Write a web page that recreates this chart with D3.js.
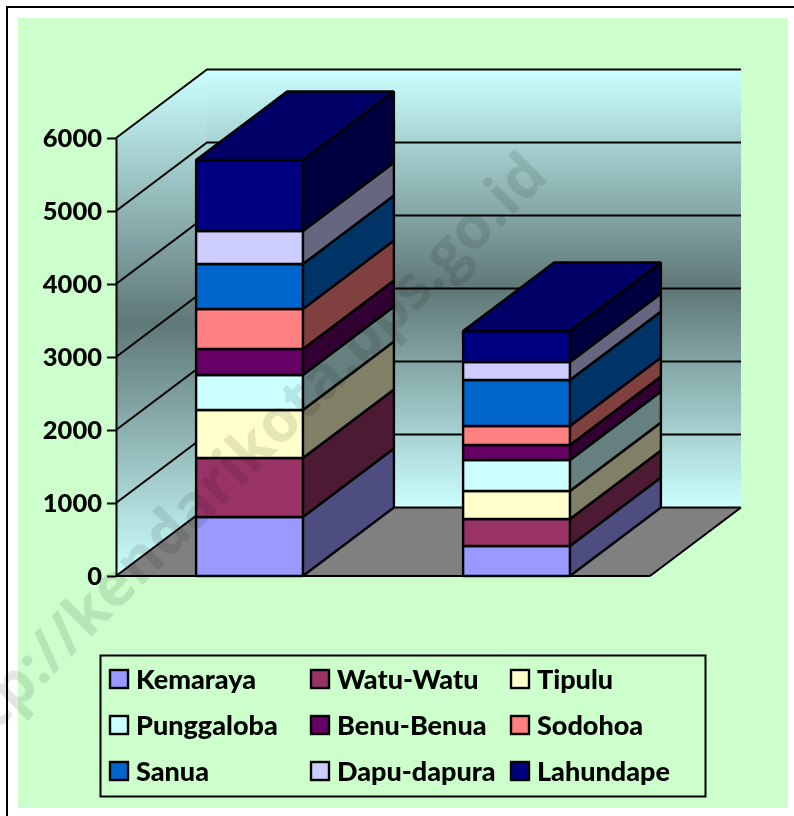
<!DOCTYPE html>
<html>
<head>
<meta charset="utf-8">
<style>
  html, body { margin: 0; padding: 0; background: #fff; }
  svg { display: block; }
</style>
</head>
<body>
<div id="chart"></div>
<script src="https://cdn.jsdelivr.net/npm/d3@7"></script>
<script>
// Data
const categories = ['Kolom 1', 'Kolom 2']
const seriesNames = ['Kemaraya', 'Watu-Watu', 'Tipulu', 'Punggaloba', 'Benu-Benua', 'Sodohoa', 'Sanua', 'Dapu-dapura', 'Lahundape']
const kolom1 = [808, 808, 658, 479, 357, 548, 616, 452, 973]
const kolom2 = [411, 370, 383, 425, 206, 260, 630, 247, 424]
const tickValues = [0, 1000, 2000, 3000, 4000, 5000, 6000]
const frontColors = ['#9999ff', '#993366', '#ffffcc', '#ccffff', '#660066', '#ff8080', '#0066cc', '#ccccff', '#000080']
const sideColors = ['#4d4d80', '#4d1a33', '#808066', '#668080', '#330033', '#804040', '#003366', '#666680', '#000040']
const topColor = '#000066'

// Dimensions
const width = 794
const height = 816
const plot = { left: 116, right: 650, bottom: 576, top: 138 }
const depth = { x: 91, y: -68.5 }
const font = 'Lato, "Noto Sans", sans-serif'

const rows = categories.map((c, i) => {
  const row = { category: c }
  seriesNames.forEach((s, j) => {
    row[s] = (i === 0 ? kolom1 : kolom2)[j]
  })
  return row
})

// Draw Image
const svg = d3.select('#chart')
  .append('svg')
  .attr('width', width)
  .attr('height', height)

// Frame
svg.append('rect')
  .attr('x', 18).attr('y', 18)
  .attr('width', 770).attr('height', 790)
  .attr('fill', '#ccffcc')
svg.append('path')
  .attr('d', 'M7,816V7H794')
  .attr('fill', 'none')
  .attr('stroke', '#000')
  .attr('stroke-width', 2)

// Scales
const xScale = d3.scaleBand()
  .domain(categories)
  .range([plot.left, plot.right])
  .paddingInner(0.6)
  .paddingOuter(0.3)

const yScale = d3.scaleLinear()
  .domain([0, 6000])
  .range([plot.bottom, plot.top])

const stackData = d3.stack().keys(seriesNames)(rows)

// Wall gradient
const defs = svg.append('defs')
const wall = defs.append('linearGradient')
  .attr('id', 'wall')
  .attr('x1', 0).attr('y1', 0).attr('x2', 0).attr('y2', 1)
wall.append('stop').attr('offset', '0').attr('stop-color', '#ccffff')
wall.append('stop').attr('offset', '0.5').attr('stop-color', '#5f7777')
wall.append('stop').attr('offset', '1').attr('stop-color', '#ccffff')

const line = d3.line()
const back = (x, y) => [x + depth.x, y + depth.y]
const y0 = yScale(0)
const yMax = yScale(6000)

// Walls and floor
const walls = svg.append('g').classed('walls', true)
walls.append('path')
  .attr('d', line([[plot.left, y0], [plot.left, yMax], back(plot.left, yMax), back(plot.left, y0)]) + 'Z')
  .attr('fill', 'url(#wall)')
walls.append('rect')
  .attr('x', plot.left + depth.x)
  .attr('y', yMax + depth.y)
  .attr('width', plot.right - plot.left)
  .attr('height', y0 - yMax)
  .attr('fill', 'url(#wall)')
walls.append('path')
  .attr('d', line([[plot.left, y0], back(plot.left, y0), back(plot.right, y0), [plot.right, y0]]) + 'Z')
  .attr('fill', '#808080')

// Gridlines
walls.selectAll('path.grid')
  .data(tickValues)
  .join('path')
  .classed('grid', true)
  .attr('d', d => line([[plot.left, yScale(d)], back(plot.left, yScale(d)), back(plot.right, yScale(d))]))
  .attr('fill', 'none')
  .attr('stroke', '#000')
  .attr('stroke-width', 2)
walls.append('path')
  .attr('d', line([[plot.right, y0], back(plot.right, y0)]))
  .attr('stroke', '#000')
  .attr('stroke-width', 2)

// Axis
const yAxis = d3.axisLeft(yScale)
  .tickValues(tickValues)
  .tickSize(9)
  .tickPadding(5)
  .tickSizeOuter(0)
  .tickFormat(d3.format('d'))

const axisGroup = svg.append('g')
  .attr('transform', `translate(${plot.left}, 0)`)
  .call(yAxis)
axisGroup.select('.domain').attr('stroke', '#000').attr('stroke-width', 2)
axisGroup.selectAll('.tick line').attr('stroke', '#000').attr('stroke-width', 2)
axisGroup.selectAll('.tick text')
  .attr('fill', '#000')
  .style('font-family', font)
  .style('font-weight', 900)
  .style('font-size', '25.5px')

// Floor front edge
svg.append('path')
  .attr('d', line([[plot.left, y0], [plot.right, y0]]))
  .attr('stroke', '#000')
  .attr('stroke-width', 2)

// Draw Bars
const bw = xScale.bandwidth()
categories.forEach((cat, i) => {
  const x = xScale(cat)
  const col = svg.append('g').classed('column', true)
  const segs = stackData.map((s, j) => ({ lo: s[i][0], hi: s[i][1], j }))

  col.selectAll('path.side')
    .data(segs)
    .join('path')
    .classed('side', true)
    .attr('d', d => line([
      [x + bw, yScale(d.lo)], [x + bw, yScale(d.hi)],
      back(x + bw, yScale(d.hi)), back(x + bw, yScale(d.lo))
    ]) + 'Z')
    .attr('fill', d => sideColors[d.j])

  col.selectAll('rect.front')
    .data(segs)
    .join('rect')
    .classed('front', true)
    .attr('x', x)
    .attr('y', d => yScale(d.hi))
    .attr('width', bw)
    .attr('height', d => yScale(d.lo) - yScale(d.hi))
    .attr('fill', d => frontColors[d.j])

  const topY = yScale(segs[segs.length - 1].hi)
  col.append('path')
    .attr('d', line([[x, topY], [x + bw, topY], back(x + bw, topY), back(x, topY)]) + 'Z')
    .attr('fill', topColor)

  col.selectAll('path, rect')
    .attr('stroke', '#000')
    .attr('stroke-width', 2.4)
    .attr('stroke-linejoin', 'bevel')
})

// Legend
const legendX = d3.scaleOrdinal().domain([0, 1, 2]).range([110, 311, 511])
const legendY = d3.scaleOrdinal().domain([0, 1, 2]).range([679, 725, 771])

svg.append('rect')
  .attr('x', 100.5).attr('y', 655.5)
  .attr('width', 605).attr('height', 141)
  .attr('fill', 'none')
  .attr('stroke', '#000')
  .attr('stroke-width', 2)

const legendItems = svg.append('g')
  .classed('legend', true)
  .selectAll('g')
  .data(seriesNames)
  .join('g')
  .attr('transform', (d, i) => `translate(${legendX(i % 3)}, ${legendY(Math.floor(i / 3))})`)

legendItems.append('rect')
  .attr('x', 0).attr('y', -9)
  .attr('width', 18).attr('height', 18)
  .attr('fill', (d, i) => frontColors[i])
  .attr('stroke', '#000')
  .attr('stroke-width', 2.4)

legendItems.append('text')
  .attr('x', 26)
  .attr('y', 10)
  .text(d => d)
  .style('font-family', font)
  .style('font-weight', 900)
  .style('font-size', '27px')

// Watermark
svg.append('text')
  .attr('transform', 'translate(550, 178) rotate(-45)')
  .attr('text-anchor', 'end')
  .text('http://kendarikota.bps.go.id')
  .style('font-family', '"Open Sans", sans-serif')
  .style('font-weight', 700)
  .style('font-size', '60px')
  .style('mix-blend-mode', 'multiply')
  .attr('fill', '#e4e6e4')
</script>
</body>
</html>
